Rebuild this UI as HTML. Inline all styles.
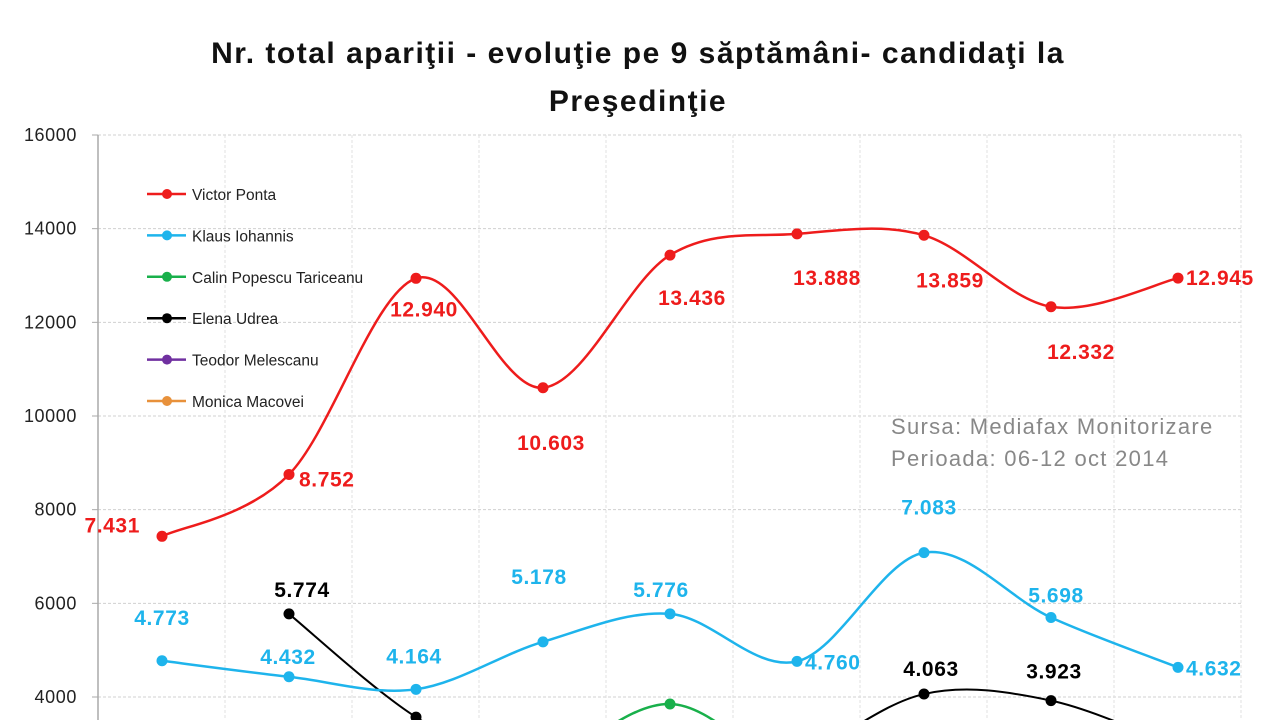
<!DOCTYPE html>
<html><head><meta charset="utf-8"><style>
body{margin:0;background:#fff;width:1280px;height:720px;overflow:hidden;font-family:"Liberation Sans",sans-serif}
svg{overflow:hidden;display:block}
</style></head><body>
<svg id="c" width="1280" height="720" xmlns="http://www.w3.org/2000/svg">
<text x="638" y="63" text-anchor="middle" font-size="30" font-weight="bold" letter-spacing="1.5" fill="#111">Nr. total apariţii - evoluţie pe 9 săptămâni- candidaţi la</text>
<text x="638" y="111" text-anchor="middle" font-size="30" font-weight="bold" letter-spacing="1.5" fill="#111">Preşedinţie</text>
<g id="grid"></g><g id="series"></g><g id="legend"></g>
<text x="891" y="434" font-size="22" letter-spacing="1.3" fill="#888">Sursa: Mediafax Monitorizare</text>
<text x="891" y="466" font-size="22" letter-spacing="1.3" fill="#888">Perioada: 06-12 oct 2014</text>
</svg>
<script>
const weeks=[1,2,3,4,5,6,7,8,9];
const yTicks=[4000,6000,8000,10000,12000,14000,16000];
const ponta=[7431,8752,12940,10603,13436,13888,13859,12332,12945];
const iohannis=[4773,4432,4164,5178,5776,4760,7083,5698,4632];
const udrea=[null,5774,3570,2300,1900,2700,4063,3923,2931];
const tariceanu=[null,null,2200,2600,3850,2500,3103,2600,2300];
const pontaLabels=["7.431","8.752","12.940","10.603","13.436","13.888","13.859","12.332","12.945"];
const iohLabels=["4.773","4.432","4.164","5.178","5.776","4.760","7.083","5.698","4.632"];
const udreaLabels=[null,"5.774",null,null,null,null,"4.063","3.923","2.931"];
const tarLabels=[null,null,null,null,null,null,"3.103",null,null];
const legendNames=["Victor Ponta","Klaus Iohannis","Calin Popescu Tariceanu","Elena Udrea","Teodor Melescanu","Monica Macovei"];
const legendColors=["#ee1c1c","#1eb4ec","#19b04b","#000","#7030a0","#e8913b"];

const NS="http://www.w3.org/2000/svg";
const X=i=>162+i*127;
const Y=v=>135+(16000-v)*0.046833;
function mk(tag,attrs,parent,text){const e=document.createElementNS(NS,tag);for(const k in attrs)e.setAttribute(k,attrs[k]);if(text!=null)e.textContent=text;parent.appendChild(e);return e;}
const grid=document.getElementById('grid'),ser=document.getElementById('series'),leg=document.getElementById('legend');
yTicks.forEach(t=>{
 const l=mk('line',{x1:98,x2:1241,y1:Y(t),y2:Y(t),stroke:'#d0d0d0','stroke-dasharray':'3,2'},grid);
 
 
 const tx=mk('text',{x:77,y:Y(t)+6,'text-anchor':'end','font-size':18,'letter-spacing':0.6,fill:'#222'},grid,String(t));
 
 
 mk('line',{x1:92,x2:98,y1:Y(t),y2:Y(t),stroke:'#aaa'},grid);
});
for(let i=0;i<9;i++){const l=mk('line',{x1:X(i)+63,x2:X(i)+63,y1:135,y2:720,stroke:'#e0e0e0','stroke-dasharray':'3,2'},grid);
 
 }
mk('line',{x1:98,x2:98,y1:135,y2:720,stroke:'#aaa','stroke-width':1.5},grid);
function smooth(pts){let d=`M${pts[0][0]},${pts[0][1]}`;
 for(let i=0;i<pts.length-1;i++){const p0=pts[i-1]||pts[i],p1=pts[i],p2=pts[i+1],p3=pts[i+2]||p2;
 const c1=[p1[0]+(p2[0]-p0[0])/6,p1[1]+(p2[1]-p0[1])/6],c2=[p2[0]-(p3[0]-p1[0])/6,p2[1]-(p3[1]-p1[1])/6];
 d+=`C${c1[0]},${c1[1]} ${c2[0]},${c2[1]} ${p2[0]},${p2[1]}`;}return d;}
const lblOff={ponta:[[-22,-4,'end'],[10,12,'start'],[8,38,'middle'],[8,62,'middle'],[22,50,'middle'],[30,51,'middle'],[26,52,'middle'],[30,52,'middle'],[8,7,'start']],
 ioh:[[0,-36,'middle'],[-1,-13,'middle'],[-2,-26,'middle'],[-4,-58,'middle'],[-9,-17,'middle'],[8,8,'start'],[5,-38,'middle'],[5,-15,'middle'],[8,8,'start']],
 udrea:[null,[13,-17,'middle'],null,null,null,null,[7,-18,'middle'],[3,-22,'middle'],[16,8,'middle']],
 tar:[null,null,null,null,null,null,[1,12,'middle'],null,null]};
function draw(name,vals,labels,color,offs,w){
 const pts=[];vals.forEach((v,i)=>{if(v!=null)pts.push([X(i),Y(v),i]);});
 const p=mk('path',{d:smooth(pts),fill:'none',stroke:color,'stroke-width':w},ser);
 
 
 pts.forEach(q=>{const c=mk('circle',{cx:q[0],cy:q[1],r:5.5,fill:color},ser);
  
  
  const lb=labels[q[2]];if(lb){const o=offs[q[2]];
   const t=mk('text',{x:q[0]+o[0],y:q[1]+o[1],'text-anchor':o[2],'font-size':21,'font-weight':'bold','letter-spacing':0.6,fill:color},ser,lb);
   
   }});
}
draw('tariceanu',tariceanu,tarLabels,'#19b04b',lblOff.tar,2.5);
draw('udrea',udrea,udreaLabels,'#000',lblOff.udrea,2);
draw('iohannis',iohannis,iohLabels,'#1eb4ec',lblOff.ioh,2.5);
draw('ponta',ponta,pontaLabels,'#ee1c1c',lblOff.ponta,2.5);
legendNames.forEach((n,i)=>{const y=194+i*41.4;
 const g=mk('g',{},leg);
 
 
 mk('line',{x1:147,x2:186,y1:y,y2:y,stroke:legendColors[i],'stroke-width':2.5},g);
 mk('circle',{cx:167,cy:y,r:5,fill:legendColors[i]},g);
 mk('text',{x:192,y:y+6,'font-size':15.5,fill:'#222'},g,n);
});
</script>
</body></html>
